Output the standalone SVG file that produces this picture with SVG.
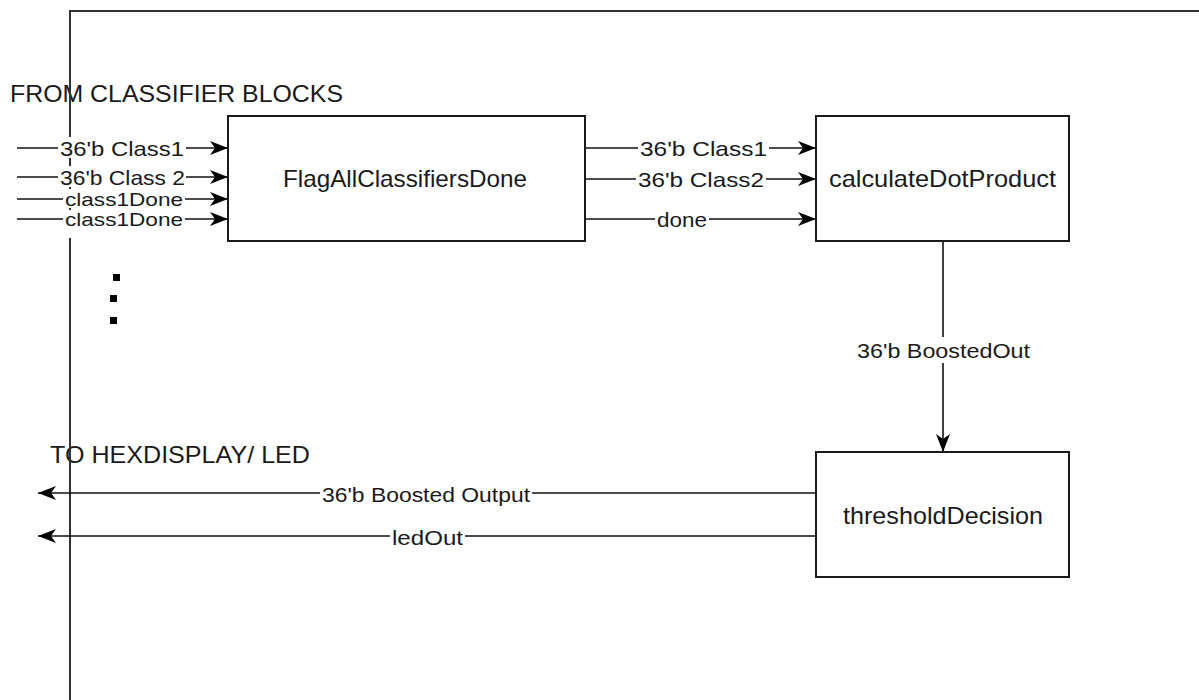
<svg xmlns="http://www.w3.org/2000/svg" width="1199" height="700" viewBox="0 0 1199 700">
<defs>
<marker id="arr" markerUnits="userSpaceOnUse" viewBox="0 0 18 16" refX="18" refY="8" markerWidth="18" markerHeight="16" orient="auto">
<path d="M0,1 L18,8 L0,15 L5,8 Z" fill="#000"/>
</marker>
<style>
.box{fill:#fff;stroke:#1a1a1a;stroke-width:2}
.ln{fill:none;stroke:#111;stroke-width:1.6}
.frame{fill:none;stroke:#333;stroke-width:2}
.bt{font-family:"Liberation Sans",Arial,sans-serif;font-size:24px;fill:#1a1a1a;text-anchor:middle}
.lb{font-family:"Liberation Sans",Arial,sans-serif;font-size:21px;fill:#1a1a1a;text-anchor:middle}
.sm{font-size:19px}
.hd{font-family:"Liberation Sans",Arial,sans-serif;font-size:24px;fill:#1a1a1a}
.bg{fill:#fff}
</style>
</defs>
<rect width="1199" height="700" fill="#fff"/>
<text class="hd" x="10" y="102" textLength="333" lengthAdjust="spacingAndGlyphs">FROM CLASSIFIER BLOCKS</text>
<text class="hd" x="50" y="463" textLength="260" lengthAdjust="spacingAndGlyphs">TO HEXDISPLAY/ LED</text>
<g id="frame">
<path class="frame" d="M70,700 L70,11 L1199,11"/>
</g>
<g id="ellipsis">
<rect x="113" y="274" width="7" height="7" fill="#000"/>
<rect x="110" y="295" width="7" height="7" fill="#000"/>
<rect x="110" y="317" width="7" height="7" fill="#000"/>
</g>
<g id="connectors">
<path class="ln" d="M17,148 L228,148" marker-end="url(#arr)"/>
<path class="ln" d="M17,177 L228,177" marker-end="url(#arr)"/>
<path class="ln" d="M17,199 L228,199" marker-end="url(#arr)"/>
<path class="ln" d="M17,219 L228,219" marker-end="url(#arr)"/>
<path class="ln" d="M585,148 L816,148" marker-end="url(#arr)"/>
<path class="ln" d="M585,179 L816,179" marker-end="url(#arr)"/>
<path class="ln" d="M585,219 L816,219" marker-end="url(#arr)"/>
<path class="ln" d="M943,241 L943,452" marker-end="url(#arr)"/>
<path class="ln" d="M816,493 L38,493" marker-end="url(#arr)"/>
<path class="ln" d="M816,536 L38,536" marker-end="url(#arr)"/>
<rect class="bg" x="58" y="137" width="128" height="21"/>
<rect class="bg" x="58" y="166" width="128" height="21"/>
<rect class="bg" x="63" y="189" width="122" height="19"/>
<rect class="bg" x="63" y="210" width="122" height="28"/>
<text class="lb" x="122" y="156" textLength="124" lengthAdjust="spacingAndGlyphs">36'b  Class1</text>
<text class="lb" x="122.5" y="185" textLength="125" lengthAdjust="spacingAndGlyphs">36'b Class 2</text>
<text class="lb sm" x="124" y="206" textLength="118" lengthAdjust="spacingAndGlyphs">class1Done</text>
<text class="lb sm" x="124" y="226" textLength="118" lengthAdjust="spacingAndGlyphs">class1Done</text>
<rect class="bg" x="638" y="138" width="131" height="20"/>
<rect class="bg" x="636" y="169" width="130" height="20"/>
<rect class="bg" x="655" y="209" width="54" height="20"/>
<text class="lb" x="703.5" y="156" textLength="127" lengthAdjust="spacingAndGlyphs">36'b  Class1</text>
<text class="lb" x="701" y="187" textLength="126" lengthAdjust="spacingAndGlyphs">36'b  Class2</text>
<text class="lb" x="682" y="227" textLength="50" lengthAdjust="spacingAndGlyphs">done</text>
<rect class="bg" x="855" y="337" width="177" height="26"/>
<text class="lb" x="943.5" y="358" textLength="173" lengthAdjust="spacingAndGlyphs">36'b BoostedOut</text>
<rect class="bg" x="320" y="484" width="212" height="20"/>
<rect class="bg" x="390" y="527" width="75" height="20"/>
<text class="lb" x="426" y="502" textLength="208" lengthAdjust="spacingAndGlyphs">36'b Boosted Output</text>
<text class="lb" x="427.5" y="545" textLength="71" lengthAdjust="spacingAndGlyphs">ledOut</text>
</g>
<g id="flagAllClassifiersDone">
<rect class="box" x="228" y="116" width="357" height="125"/>
<text class="bt" x="405" y="187" textLength="244" lengthAdjust="spacingAndGlyphs">FlagAllClassifiersDone</text>
</g>
<g id="calculateDotProduct">
<rect class="box" x="816" y="116" width="253" height="125"/>
<text class="bt" x="942.5" y="187" textLength="227" lengthAdjust="spacingAndGlyphs">calculateDotProduct</text>
</g>
<g id="thresholdDecision">
<rect class="box" x="816" y="452" width="253" height="125"/>
<text class="bt" x="943" y="524" textLength="200" lengthAdjust="spacingAndGlyphs">thresholdDecision</text>
</g>
</svg>
